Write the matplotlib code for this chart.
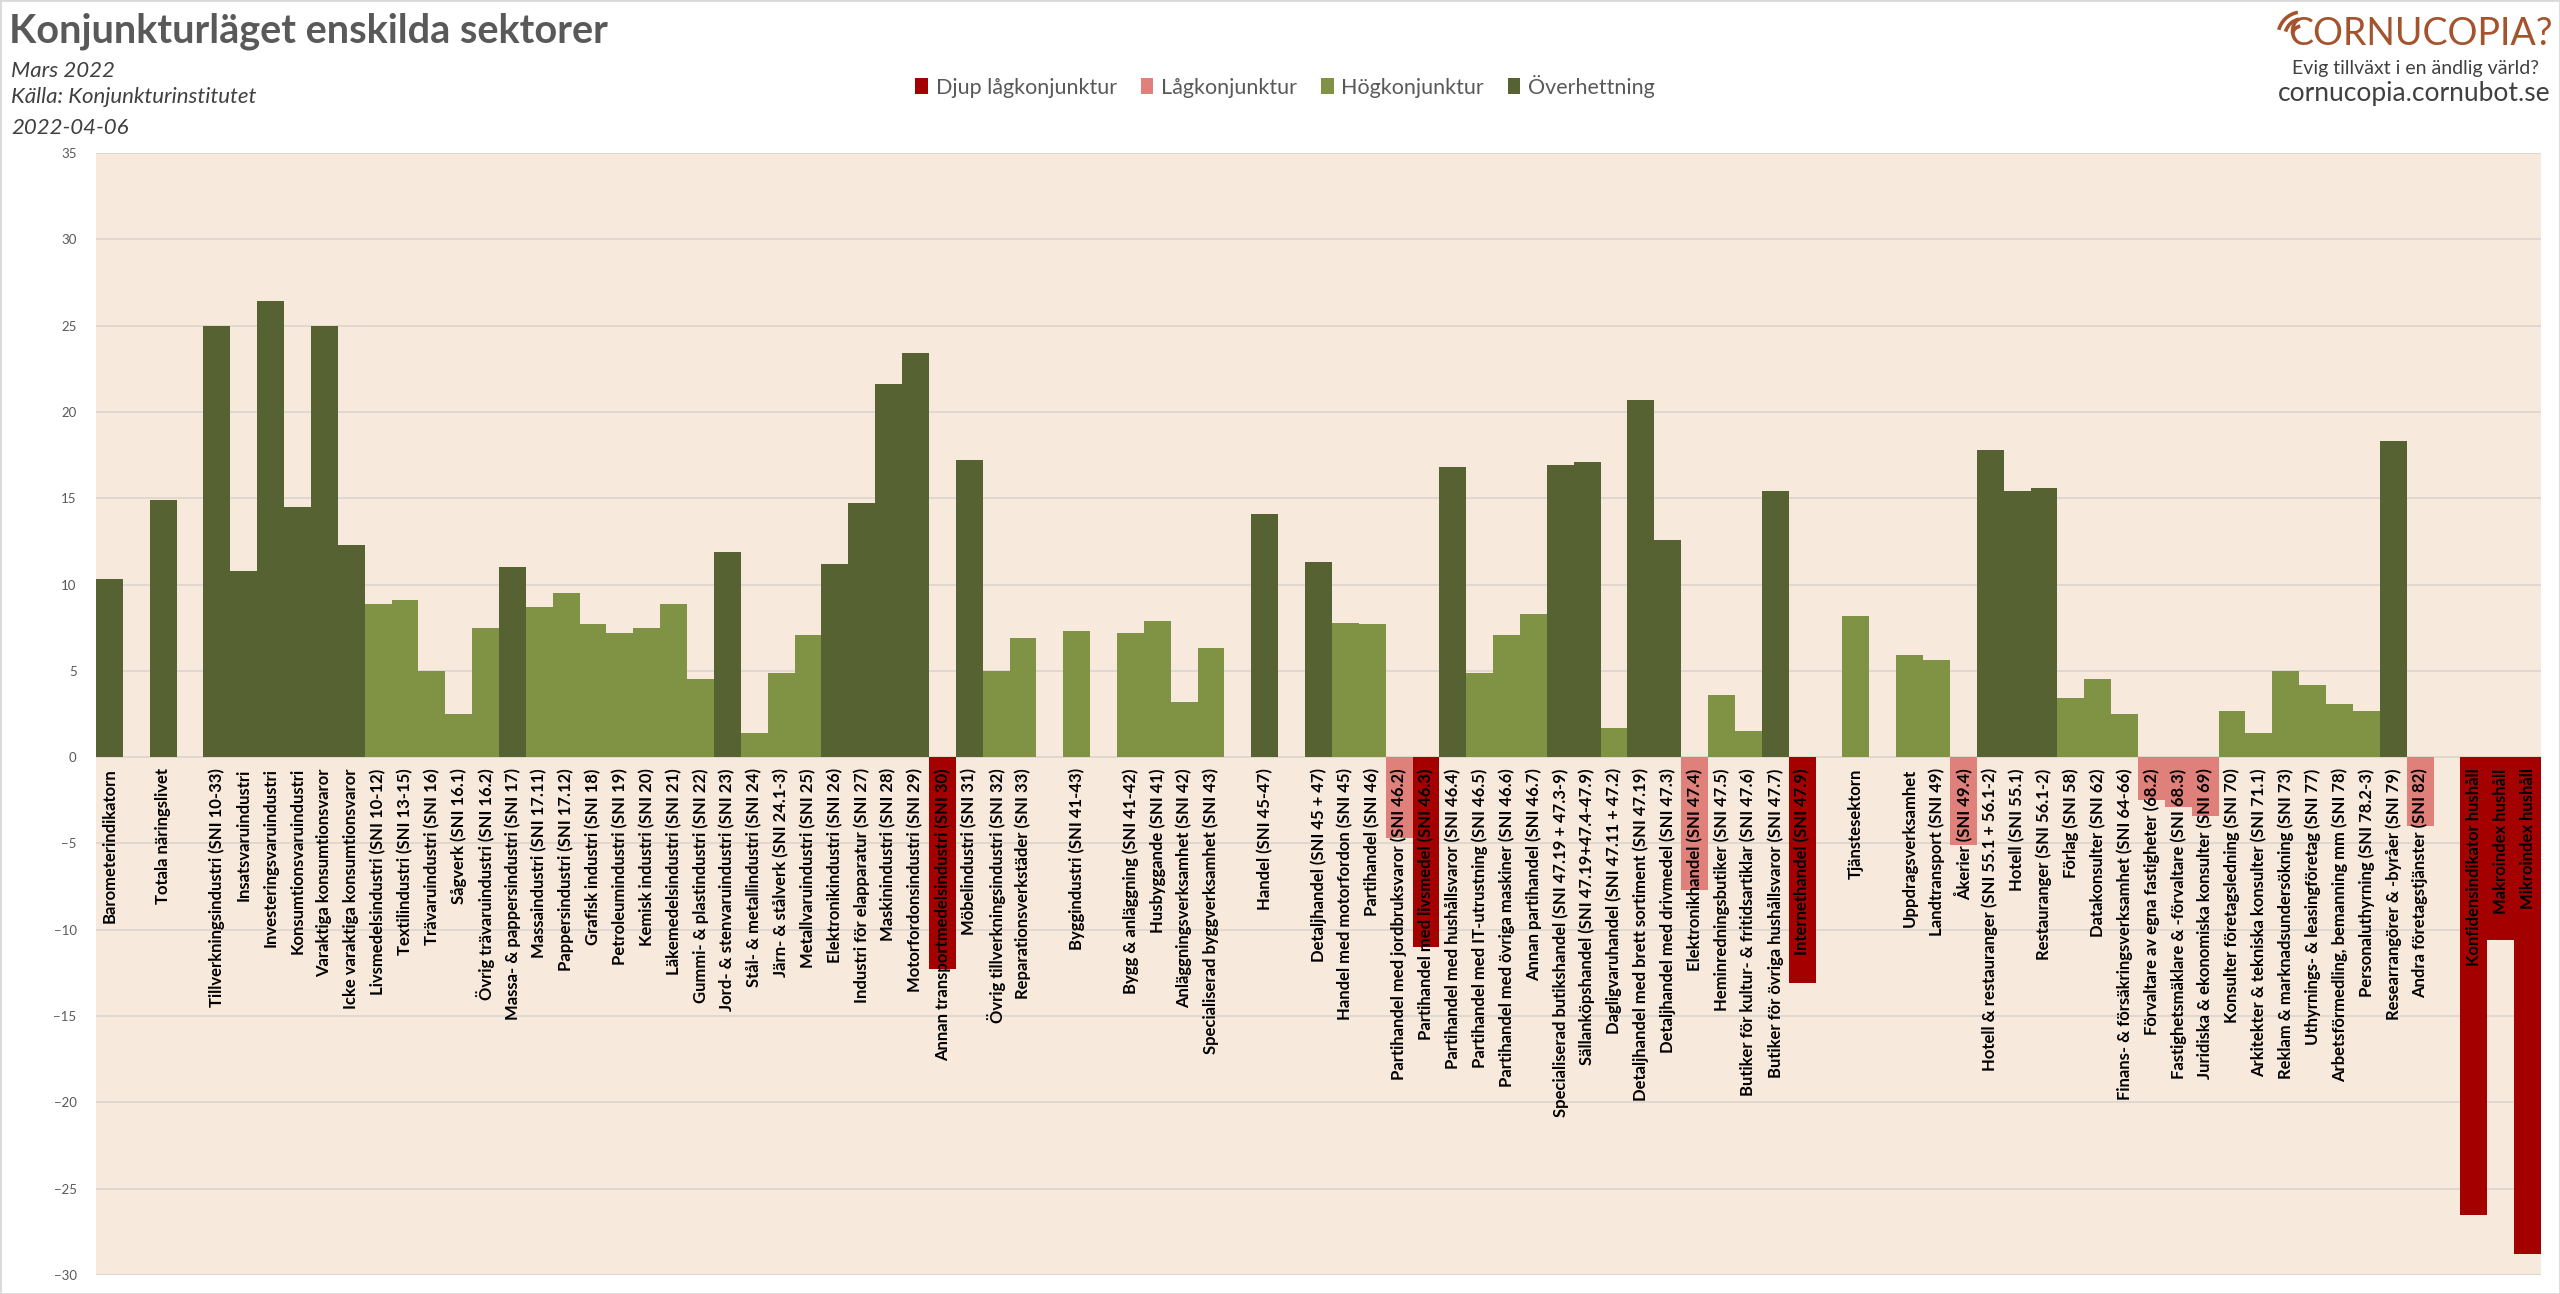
import matplotlib
matplotlib.use("Agg")
import matplotlib.pyplot as plt
from matplotlib import font_manager
from matplotlib.patches import Patch, Arc, Rectangle

# --- data (mars 2022) ---
categories = [
    "Barometerindikatorn", "",
    "Totala näringslivet", "",
    "Tillverkningsindustri (SNI 10-33)", "Insatsvaruindustri", "Investeringsvaruindustri",
    "Konsumtionsvaruindustri", "Varaktiga konsumtionsvaror", "Icke varaktiga konsumtionsvaror",
    "Livsmedelsindustri (SNI 10-12)", "Textilindustri (SNI 13-15)", "Trävaruindustri (SNI 16)",
    "Sågverk (SNI 16.1)", "Övrig trävaruindustri (SNI 16.2)", "Massa- & pappersindustri (SNI 17)",
    "Massaindustri (SNI 17.11)", "Pappersindustri (SNI 17.12)", "Grafisk industri (SNI 18)",
    "Petroleumindustri (SNI 19)", "Kemisk industri (SNI 20)", "Läkemedelsindustri (SNI 21)",
    "Gummi- & plastindustri (SNI 22)", "Jord- & stenvaruindustri (SNI 23)",
    "Stål- & metallindustri (SNI 24)", "Järn- & stålverk (SNI 24.1-3)",
    "Metallvaruindustri (SNI 25)", "Elektronikindustri (SNI 26)",
    "Industri för elapparatur (SNI 27)", "Maskinindustri (SNI 28)",
    "Motorfordonsindustri (SNI 29)", "Annan transportmedelsindustri (SNI 30)",
    "Möbelindustri (SNI 31)", "Övrig tillverkningsindustri (SNI 32)",
    "Reparationsverkstäder (SNI 33)", "",
    "Byggindustri (SNI 41-43)", "",
    "Bygg & anläggning (SNI 41-42)", "Husbyggande (SNI 41)", "Anläggningsverksamhet (SNI 42)",
    "Specialiserad byggverksamhet (SNI 43)", "",
    "Handel (SNI 45-47)", "",
    "Detaljhandel (SNI 45 + 47)", "Handel med motorfordon (SNI 45)", "Partihandel (SNI 46)",
    "Partihandel med jordbruksvaror (SNI 46.2)", "Partihandel med livsmedel (SNI 46.3)",
    "Partihandel med hushållsvaror (SNI 46.4)", "Partihandel med IT-utrustning (SNI 46.5)",
    "Partihandel med övriga maskiner (SNI 46.6)", "Annan partihandel (SNI 46.7)",
    "Specialiserad butikshandel (SNI 47.19 + 47.3-9)", "Sällanköpshandel (SNI 47.19+47.4-47.9)",
    "Dagligvaruhandel (SNI 47.11 + 47.2)", "Detaljhandel med brett sortiment (SNI 47.19)",
    "Detaljhandel med drivmedel (SNI 47.3)", "Elektronikhandel (SNI 47.4)",
    "Heminredningsbutiker (SNI 47.5)", "Butiker för kultur- & fritidsartiklar (SNI 47.6)",
    "Butiker för övriga hushållsvaror (SNI 47.7)", "Internethandel (SNI 47.9)", "",
    "Tjänstesektorn", "",
    "Uppdragsverksamhet", "Landtransport (SNI 49)", "Åkerier (SNI 49.4)",
    "Hotell & restauranger (SNI 55.1 + 56.1-2)", "Hotell (SNI 55.1)", "Restauranger (SNI 56.1-2)",
    "Förlag (SNI 58)", "Datakonsulter (SNI 62)", "Finans- & försäkringsverksamhet (SNI 64-66)",
    "Förvaltare av egna fastigheter (68.2)", "Fastighetsmäklare & -förvaltare (SNI 68.3)",
    "Juridiska & ekonomiska konsulter (SNI 69)", "Konsulter företagsledning (SNI 70)",
    "Arkitekter & tekniska konsulter (SNI 71.1)", "Reklam & marknadsundersökning (SNI 73)",
    "Uthyrnings- & leasingföretag (SNI 77)", "Arbetsförmedling, bemanning mm (SNI 78)",
    "Personaluthyrning (SNI 78.2-3)", "Researrangörer & -byråer (SNI 79)",
    "Andra företagstjänster (SNI 82)", "",
    "Konfidensindikator hushåll", "Makroindex hushåll", "Mikroindex hushåll",
]

values = [
    10.3, None,
    14.9, None,
    25.0, 10.8, 26.4, 14.5, 25.0, 12.3,
    8.9, 9.1, 5.0, 2.5, 7.5, 11.0,
    8.7, 9.5, 7.7, 7.2, 7.5, 8.9,
    4.5, 11.9, 1.4, 4.9, 7.1, 11.2,
    14.7, 21.6, 23.4, -12.3, 17.2, 5.0,
    6.9, None,
    7.3, None,
    7.2, 7.9, 3.2, 6.3, None,
    14.1, None,
    11.3, 7.8, 7.7, -4.7, -11.0,
    16.8, 4.9, 7.1, 8.3,
    16.9, 17.1, 1.7, 20.7, 12.6, -7.7,
    3.6, 1.5, 15.4, -13.1, None,
    8.2, None,
    5.9, 5.6, -5.1, 17.8, 15.4, 15.6,
    3.4, 4.5, 2.5, -2.5, -2.9, -3.4,
    2.7, 1.4, 5.0, 4.2, 3.1, 2.7, 18.3,
    -4.0, None,
    -26.5, -10.6, -28.8,
]

phase_names = ["Djup lågkonjunktur", "Lågkonjunktur", "Högkonjunktur", "Överhettning"]
phase_limits = [-10, 0, 10]  # borders between the four phases
y_ticks = list(range(-30, 36, 5))

assert len(categories) == len(values)

# --- style ---
phase_colors = ["#a40000", "#e0807a", "#809244", "#566231"]
bg_tan = "#f7e9dc"
grey_txt = "#595959"
brown = "#a5532c"

names = {f.name for f in font_manager.fontManager.ttflist}


def pick(*cands):
    for c in cands:
        if c in names:
            return c
    return "DejaVu Sans"


lato = pick("Lato", "Open Sans", "DejaVu Sans")
narrow = pick("Liberation Sans Narrow", "Lato")


def phase(v):
    i = 0
    for lim in phase_limits:
        if v > lim:
            i += 1
    return i


W, H = 2560, 1294
fig = plt.figure(figsize=(W / 100, H / 100), dpi=100)
fig.patch.set_facecolor("white")

left, right, top, bottom = 96, 2541, 153, 1275
ax = fig.add_axes([left / W, 1 - bottom / H, (right - left) / W, (bottom - top) / H])
ax.set_facecolor(bg_tan)

xs = [i for i, v in enumerate(values) if v is not None]
hs = [v for v in values if v is not None]
cols = [phase_colors[phase(v)] for v in hs]
ax.bar(xs, hs, width=1.0, color=cols, linewidth=0, zorder=2)

ax.set_xlim(-0.5, len(values) - 0.5)
ax.set_ylim(y_ticks[0], y_ticks[-1])
ax.set_yticks(y_ticks)
ax.set_xticks([])
for s in ax.spines.values():
    s.set_visible(False)
ax.yaxis.grid(True, color="#ded6ce", linewidth=1.3)
ax.set_axisbelow(True)
ax.tick_params(axis="y", length=0, pad=14, labelsize=9.5, labelcolor=grey_txt)
for t in ax.get_yticklabels():
    t.set_family(lato)

for i, lab in enumerate(categories):
    if lab:
        ax.annotate(lab, xy=(i, 0), xytext=(0, -8), textcoords="offset points",
                    rotation=90, ha="center", va="top", fontsize=12,
                    fontweight="bold", family=lato, color="black",
                    zorder=5, annotation_clip=False)

# legend
handles = [Patch(facecolor=c, edgecolor="none") for c in phase_colors]
leg = fig.legend(handles, phase_names, loc="center", bbox_to_anchor=(1285 / W, 1 - 86 / H),
                 ncol=4, frameon=False, handlelength=0.6, handleheight=0.75,
                 handletextpad=0.35, columnspacing=1.1, labelcolor=grey_txt,
                 prop={"family": lato, "size": 15.5})

# titles
fig.text(9 / W, 1 - 42 / H, "Konjunkturläget enskilda sektorer", fontsize=28.5,
         fontweight="bold", family=lato, color=grey_txt, ha="left", va="baseline")
for txt, yb in [("Mars 2022", 77), ("Källa: Konjunkturinstitutet", 103), ("2022-04-06", 134)]:
    fig.text(11 / W, 1 - yb / H, txt, fontsize=16, style="italic", family=narrow,
             color="#404040", ha="left", va="baseline")

# logo, top right
fig.text(2553 / W, 1 - 45 / H, "CORNUCOPIA?", fontsize=27, family=lato, color=brown,
         ha="right", va="baseline")
for r in (10, 17, 24):
    fig.add_artist(Arc((2302 / 100, (H - 36) / 100), 2 * r / 100, 2 * r / 100,
                       theta1=100, theta2=165, transform=fig.dpi_scale_trans,
                       color=brown, linewidth=2.6))
fig.text(2415 / W, 1 - 74 / H, "Evig tillväxt i en ändlig värld?", fontsize=14,
         family=lato, color="#404040", ha="center", va="baseline")
fig.text(2414 / W, 1 - 101 / H, "cornucopia.cornubot.se", fontsize=19,
         family=lato, color="#404040", ha="center", va="baseline")

# thin frame around the whole picture
fig.add_artist(Rectangle((0, 0), 1, 1, transform=fig.transFigure, fill=False,
                         edgecolor="#d9d9d9", linewidth=2))

fig.savefig("out.png", dpi=100, facecolor="white")
